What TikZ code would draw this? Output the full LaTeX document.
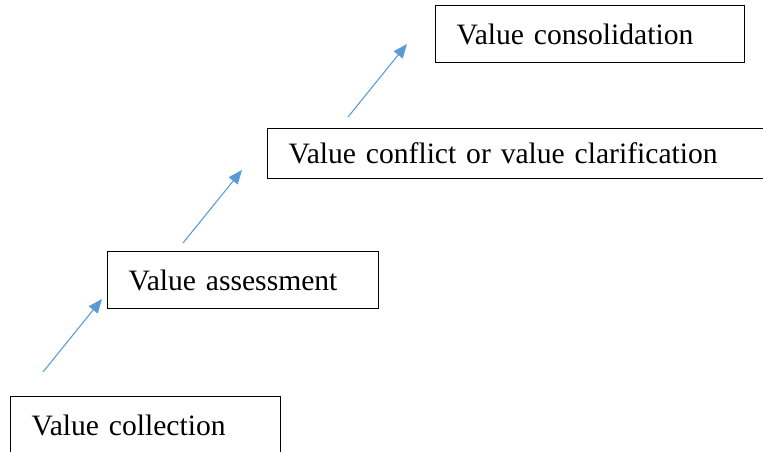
\documentclass[tikz,border=0pt]{standalone}
\usepackage{fontspec}
\setmainfont{Liberation Serif}
\usetikzlibrary{arrows.meta}

\begin{document}
\begin{tikzpicture}[x=0.75pt, y=-0.75pt,
    stage/.style={draw=borderColour, line width=1pt, anchor=north west, align=left,
        inner xsep=15.75pt, inner ysep=0pt, font=\fontsize{22.2}{26}\selectfont},
    stepArrow/.style={draw=arrowColour, line width=0.8pt,
        -{Triangle[length=10.5pt, width=8.5pt]}}]
    % Define colors
    \definecolor{borderColour}{HTML}{000000}
    \definecolor{arrowColour}{HTML}{5B9BD5}

    % Fix the page
    \useasboundingbox (0,0) rectangle (763,451);
    \clip (0,0) rectangle (763,451);

    % Draw the stages, bottom to top
    \node[stage, text width=171pt, minimum height=43.5pt] (collection) at (10,396) {Value collection};
    \node[stage, text width=171.75pt, minimum height=42.75pt] (assessment) at (107,251) {Value assessment};
    \node[stage, text width=345.5pt, minimum height=37.5pt] (clarification) at (267,128) {Value conflict or value clarification};
    \node[stage, text width=200.25pt, minimum height=42.75pt] (consolidation) at (435,5) {Value consolidation};

    % Define arrow ends
    \coordinate (A1) at (43,372);
    \coordinate (B1) at (102,299);
    \coordinate (A2) at (183,243);
    \coordinate (B2) at (242,170);
    \coordinate (A3) at (348,117);
    \coordinate (B3) at (407,44);

    % Draw arrows
    \foreach \i in {1,2,3}
        \draw[stepArrow] (A\i) -- (B\i);

\end{tikzpicture}
\end{document}
